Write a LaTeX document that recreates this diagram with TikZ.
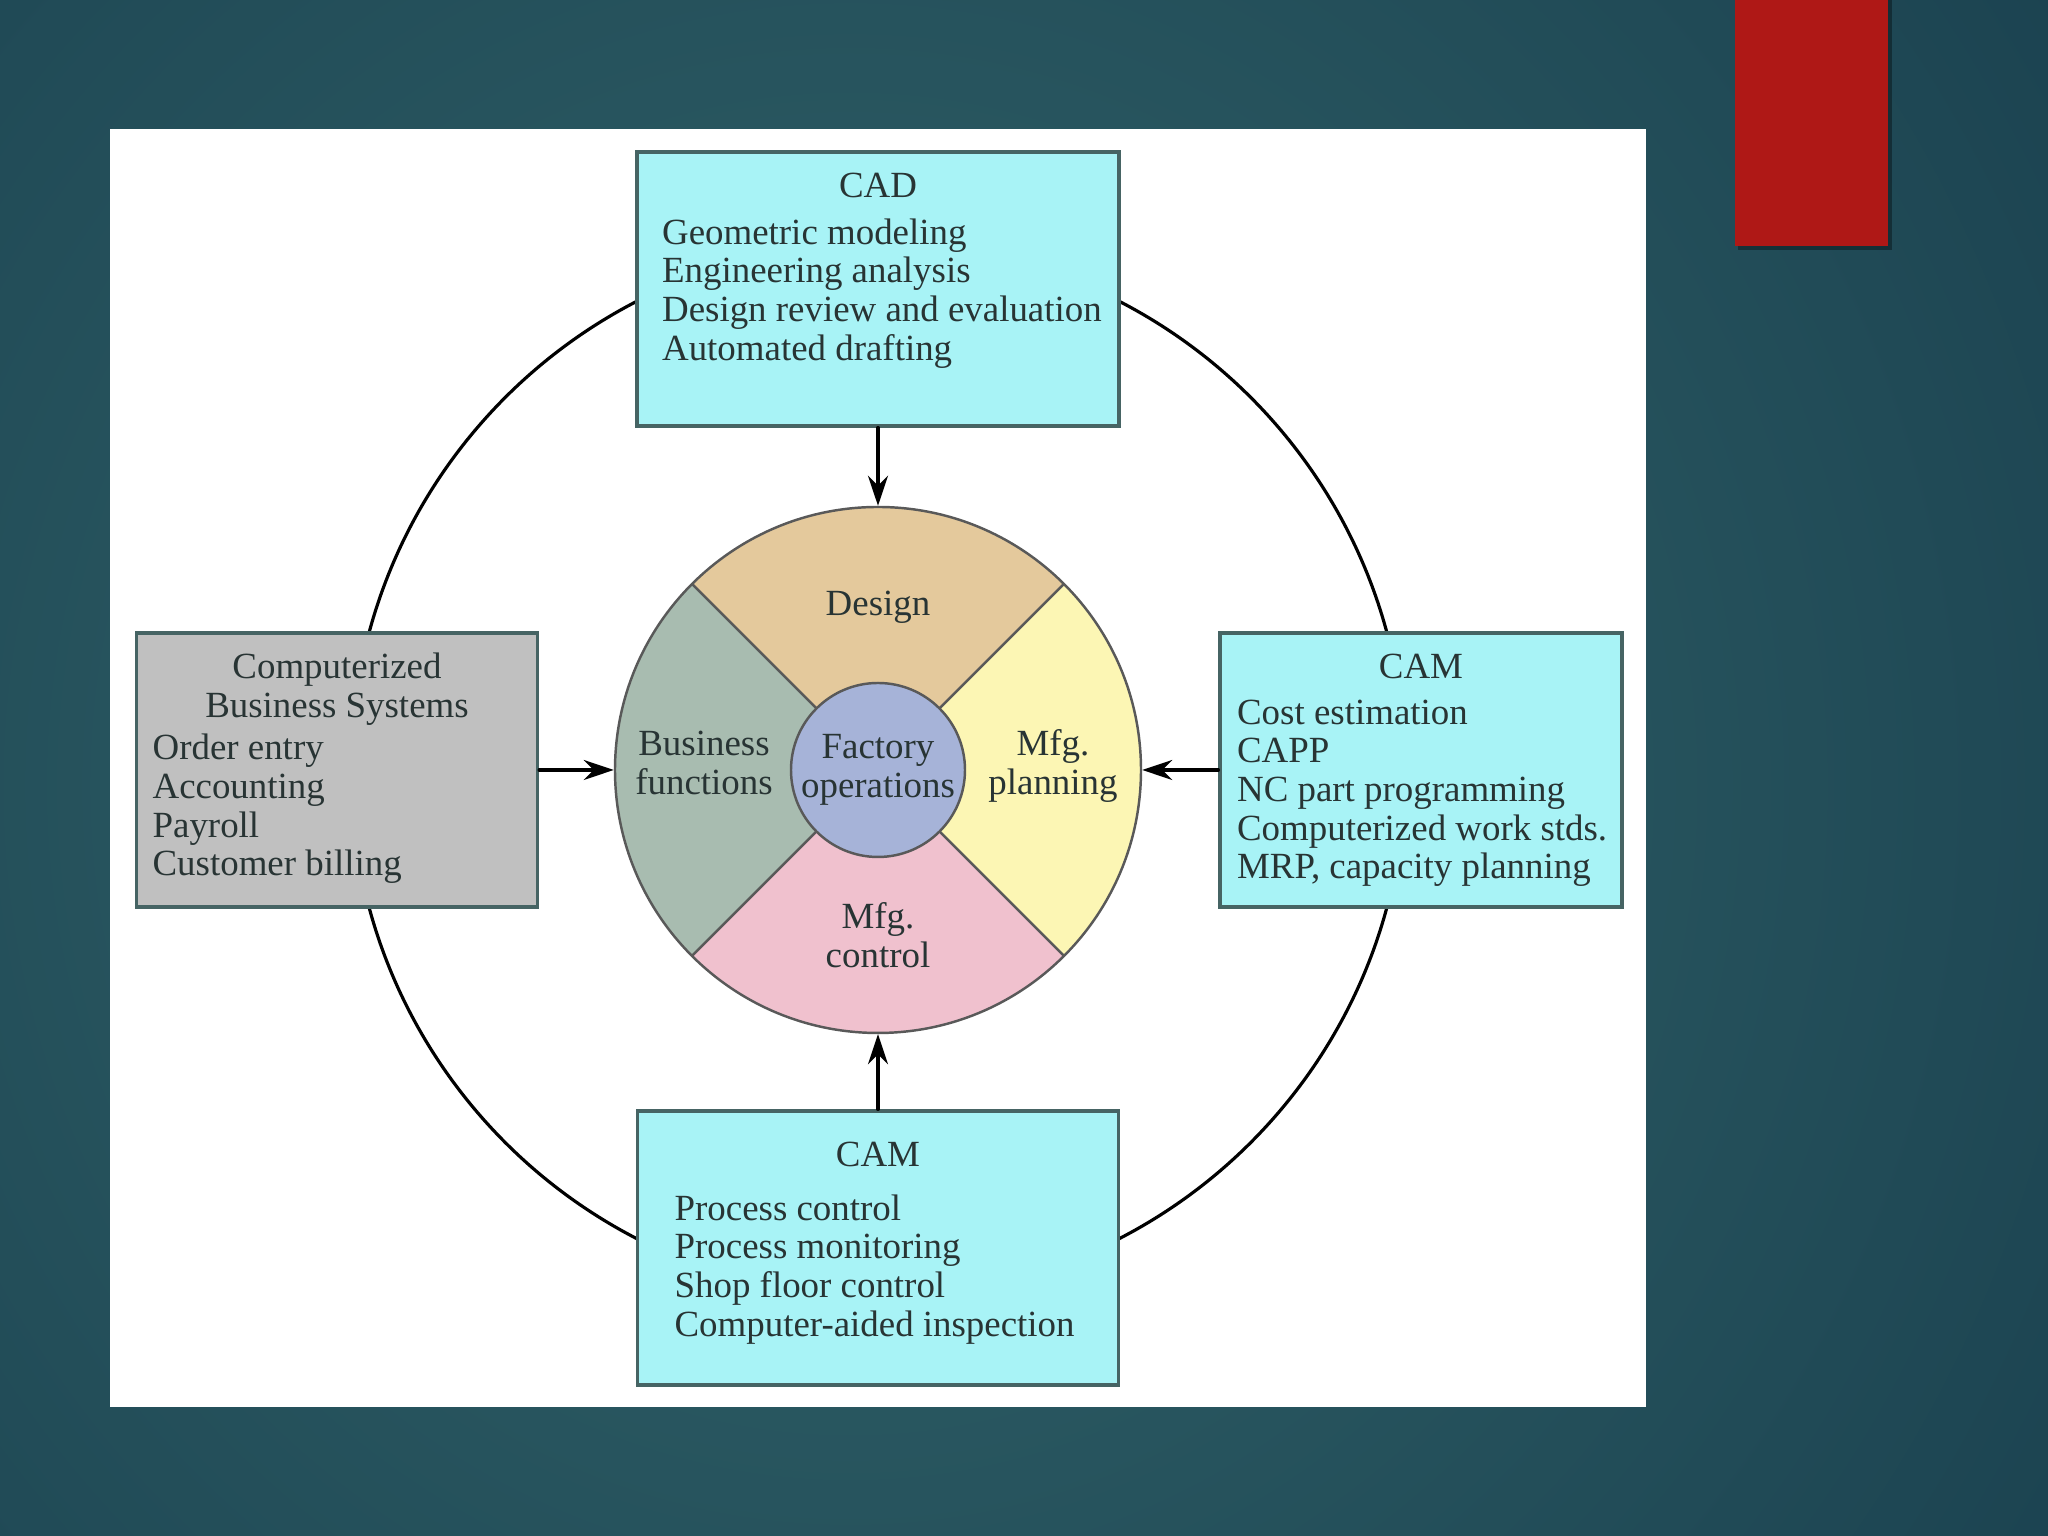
\documentclass[tikz,border=0pt]{standalone}
\usepackage{fontspec}
\setmainfont{Liberation Serif}
\usepackage{tikz}
\usetikzlibrary{arrows.meta}
\usepackage{xcolor}
\definecolor{slidemid}{RGB}{50,100,106}
\definecolor{slidedark}{RGB}{24,62,77}
\definecolor{tabred}{RGB}{175,24,22}
\definecolor{camcyan}{RGB}{168,243,246}
\definecolor{bizgray}{RGB}{192,192,192}
\definecolor{boxedge}{RGB}{70,100,100}
\definecolor{designtan}{RGB}{228,201,156}
\definecolor{bizgreen}{RGB}{168,188,176}
\definecolor{planyellow}{RGB}{252,246,180}
\definecolor{ctrlpink}{RGB}{240,193,206}
\definecolor{hubblue}{RGB}{166,179,216}
\definecolor{inktext}{RGB}{40,52,52}

\begin{document}
\begin{tikzpicture}[>={Stealth[length=3mm,width=2mm]},font=\fontsize{10.5}{11}\selectfont,line cap=round,
  fnbox/.style={draw=boxedge,line width=0.9pt,minimum width=4.82cm,minimum height=2.74cm,inner sep=0pt},
  sidebox/.style={fnbox,minimum width=4.02cm},
  boxtext/.style={text=inktext,inner sep=0pt,align=left},
  wedgetext/.style={text=inktext,inner sep=0pt,align=center}]
\useasboundingbox (0,0) rectangle (20.48,15.36);
% slide
\shade[inner color=slidemid,outer color=slidedark] (-8,-9.5) rectangle (25,24.5);
\fill[black,opacity=0.35] (17.38,12.86) rectangle (18.92,15.36);
\fill[tabred] (17.35,12.90) rectangle (18.88,15.36);
\fill[white] (1.10,1.29) rectangle (16.46,14.07);
% ring and wheel
\node (ring) [circle,draw,line width=0.9pt,minimum size=10.54cm] at (8.78,7.66) {};
\begin{scope}[shift={(ring.center)}]
\fill[designtan] (45:0.87) -- (45:2.63) arc (45:135:2.63) -- (135:0.87) arc (135:45:0.87) -- cycle;
\fill[bizgreen] (135:0.87) -- (135:2.63) arc (135:225:2.63) -- (225:0.87) arc (225:135:0.87) -- cycle;
\fill[ctrlpink] (225:0.87) -- (225:2.63) arc (225:315:2.63) -- (315:0.87) arc (315:225:0.87) -- cycle;
\fill[planyellow] (315:0.87) -- (315:2.63) arc (315:405:2.63) -- (405:0.87) arc (405:315:0.87) -- cycle;
\draw[black!65,line width=0.7pt] (45:0.87) -- (45:2.63);
\draw[black!65,line width=0.7pt] (135:0.87) -- (135:2.63);
\draw[black!65,line width=0.7pt] (225:0.87) -- (225:2.63);
\draw[black!65,line width=0.7pt] (315:0.87) -- (315:2.63);
\end{scope}
\node (wheel) [circle,draw=black!65,line width=0.7pt,minimum size=5.26cm] at (ring.center) {};
\node (hub) [circle,draw=black!65,line width=0.7pt,fill=hubblue,minimum size=1.74cm,wedgetext] at (ring.center) {Factory\\operations};
\node (design) [wedgetext] at ([yshift=1.63cm]ring.center) {Design};
\node (business) [wedgetext] at ([xshift=-1.74cm,yshift=0.07cm]ring.center) {Business\\functions};
\node (planning) [wedgetext] at ([xshift=1.75cm,yshift=0.04cm]ring.center) {Mfg.\\planning};
\node (control) [wedgetext] at ([yshift=-1.65cm]ring.center) {Mfg.\\control};
% boxes
\node (cad) [fnbox,fill=camcyan] at (8.78,12.47) {};
\node (bizsys) [sidebox,fill=bizgray,minimum width=4.01cm] at (3.37,7.66) {};
\node (camplan) [sidebox,fill=camcyan] at (14.21,7.66) {};
\node (camshop) [fnbox,fill=camcyan,minimum width=4.81cm] at (8.78,2.88) {};
\node (cadtitle) [text=inktext,anchor=base] at ([yshift=-0.475cm]cad.north) {CAD};
\node (cadlist) [boxtext,anchor=north west] at ([xshift=0.26cm,yshift=-0.675cm]cad.north west) {Geometric modeling\\Engineering analysis\\Design review and evaluation\\Automated drafting};
\node (biztitle) [wedgetext,anchor=north] at ([yshift=-0.21cm]bizsys.north) {Computerized\\Business Systems};
\node (bizlist) [boxtext,anchor=north west] at ([xshift=0.17cm,yshift=-1.02cm]bizsys.north west) {Order entry\\Accounting\\Payroll\\Customer billing};
\node (camplantitle) [text=inktext,anchor=base] at ([yshift=-0.47cm]camplan.north) {CAM};
\node (camplanlist) [boxtext,anchor=north west] at ([xshift=0.18cm,yshift=-0.675cm]camplan.north west) {Cost estimation\\CAPP\\NC part programming\\Computerized work stds.\\MRP, capacity planning};
\node (camshoptitle) [text=inktext,anchor=base] at ([yshift=-0.575cm]camshop.north) {CAM};
\node (camshoplist) [boxtext,anchor=north west] at ([xshift=0.38cm,yshift=-0.845cm]camshop.north west) {Process control\\Process monitoring\\Shop floor control\\Computer-aided inspection};
% arrows into the wheel
\draw[->,line width=0.9pt] (cad) -- (wheel);
\draw[->,line width=0.9pt] (bizsys) -- (wheel);
\draw[->,line width=0.9pt] (camplan) -- (wheel);
\draw[->,line width=0.9pt] (camshop) -- (wheel);
\end{tikzpicture}
\end{document}
